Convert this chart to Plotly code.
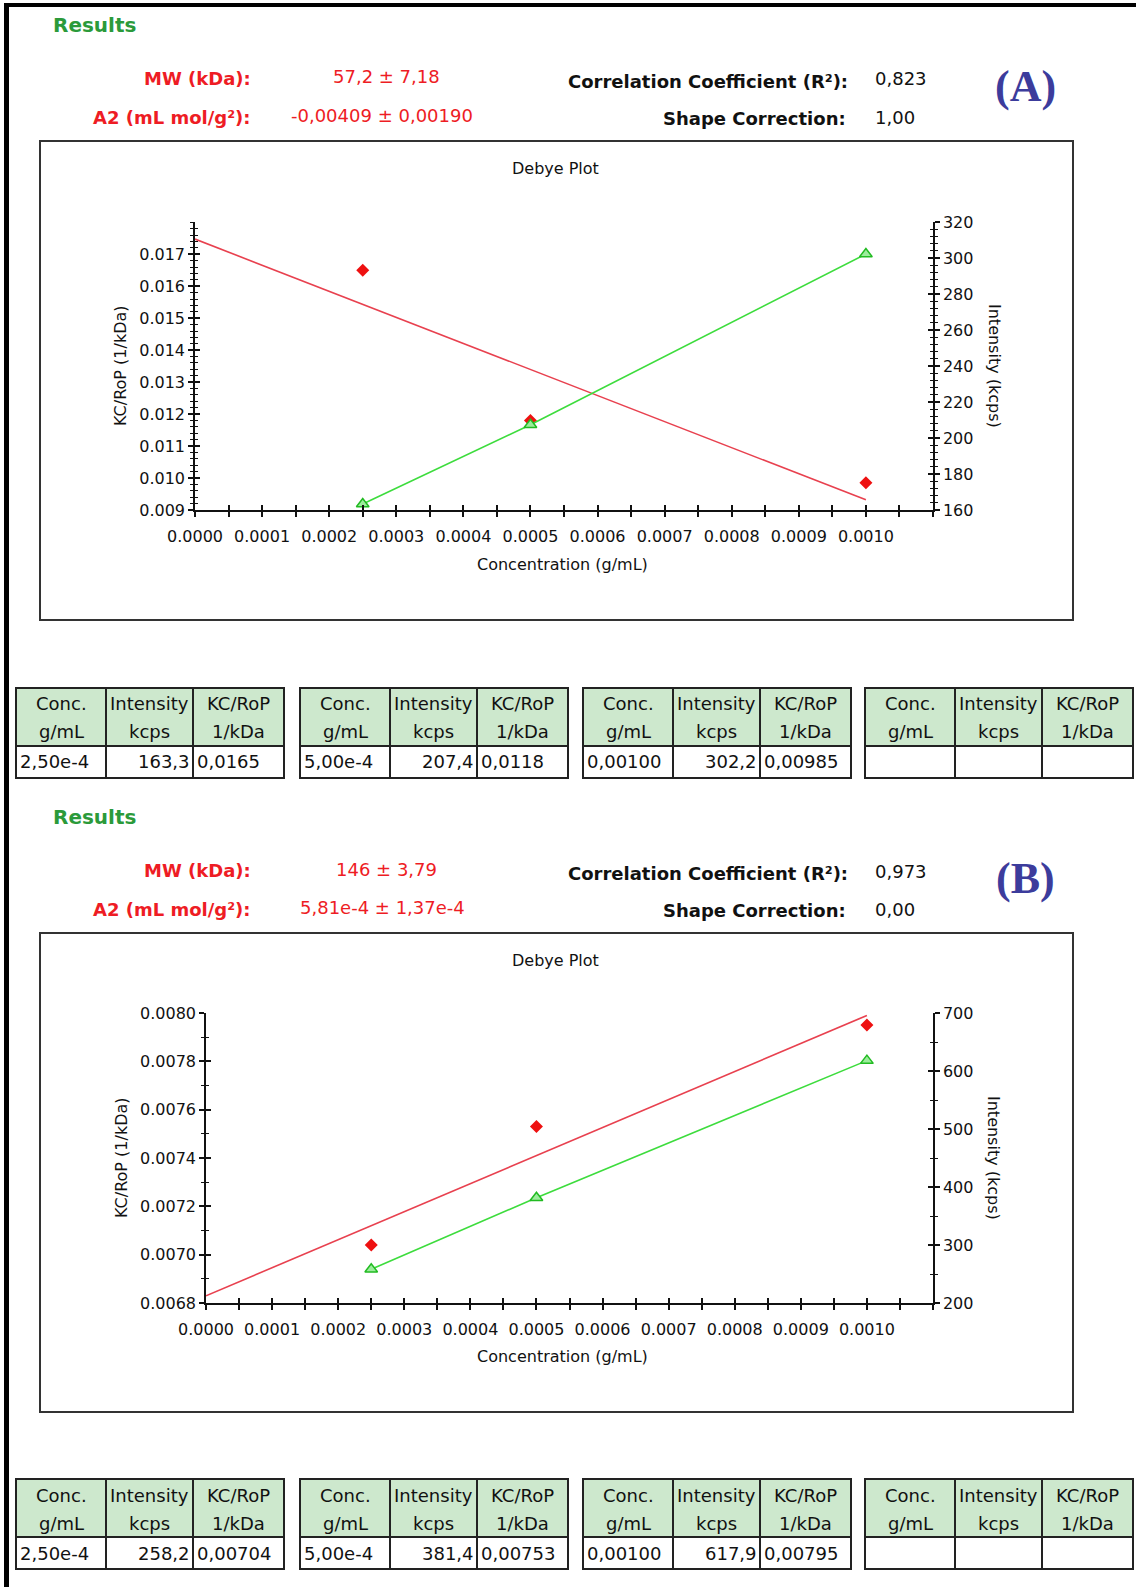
import numpy as np
import plotly.graph_objects as go

W, H = 1136, 1587

# ---------------- data ----------------
conc = [0.00025, 0.0005, 0.001]
conc_labels = ["2,50e-4", "5,00e-4", "0,00100"]

kc_a = [0.0165, 0.0118, 0.00985]
int_a = [163.3, 207.4, 302.2]

kc_b = [0.00704, 0.00753, 0.00795]
int_b = [258.2, 381.4, 617.9]

x_ticks = [0.0000, 0.0001, 0.0002, 0.0003, 0.0004, 0.0005, 0.0006, 0.0007, 0.0008, 0.0009, 0.0010]
x_tick_labels = ["0.0000", "0.0001", "0.0002", "0.0003", "0.0004", "0.0005",
                 "0.0006", "0.0007", "0.0008", "0.0009", "0.0010"]

kc_ticks_a = [0.009, 0.010, 0.011, 0.012, 0.013, 0.014, 0.015, 0.016, 0.017]
kc_tick_labels_a = ["0.009", "0.010", "0.011", "0.012", "0.013", "0.014", "0.015", "0.016", "0.017"]
int_ticks_a = [160, 180, 200, 220, 240, 260, 280, 300, 320]

kc_ticks_b = [0.0068, 0.0070, 0.0072, 0.0074, 0.0076, 0.0078, 0.0080]
kc_tick_labels_b = ["0.0068", "0.0070", "0.0072", "0.0074", "0.0076", "0.0078", "0.0080"]
int_ticks_b = [200, 300, 400, 500, 600, 700]

header_a = {"mw": "57,2 ± 7,18", "a2": "-0,00409 ± 0,00190", "r2": "0,823", "shape": "1,00", "tag": "(A)"}
header_b = {"mw": "146 ± 3,79", "a2": "5,81e-4 ± 1,37e-4", "r2": "0,973", "shape": "0,00", "tag": "(B)"}

table_head_1 = ["Conc.", "Intensity", "KC/RoP"]
table_head_2 = ["g/mL", "kcps", "1/kDa"]

# ---------------- helpers ----------------
def px(x):
    return x / W

def py(y):
    return 1 - y / H

FONT = "DejaVu Sans"
INK = "#111111"
RED_TXT = "#ee1c24"

fig = go.Figure()
annotations = []
shapes = []


def ann(text, x, y, size, color=INK, xanchor="center", bold=False, family=FONT, angle=0):
    if bold:
        text = "<b>" + text + "</b>"
    annotations.append(dict(text=text, x=px(x), y=py(y), xref="paper", yref="paper",
                            xanchor=xanchor, yanchor="middle", showarrow=False,
                            textangle=angle,
                            font=dict(family=family, size=size, color=color)))


def rect(x0, y0, x1, y1, fill=None, color="#222", width=2):
    shapes.append(dict(type="rect", xref="paper", yref="paper", x0=px(x0), x1=px(x1),
                       y0=py(y1), y1=py(y0), fillcolor=fill or "rgba(0,0,0,0)",
                       line=dict(color=color, width=width), layer="above"))


def line(x0, y0, x1, y1, color="#222", width=2):
    shapes.append(dict(type="line", xref="paper", yref="paper", x0=px(x0), x1=px(x1),
                       y0=py(y0), y1=py(y1), line=dict(color=color, width=width)))


def fmt_int(v):
    return f"{v:.1f}".replace(".", ",")


def fmt_kc(v):
    return f"{v:.3g}".replace(".", ",")


layout_axes = {}


def panel(idx, kc, inten, left_px, top_px, bottom_px, kc_range, int_range,
          kc_ticks, kc_labels, kc_minor, int_ticks, int_minor, hdr, dy, tdy):
    if idx == 0:
        xa, ya, ya2, xo, yo1, yo2 = "x", "y", "y2", "x3", "y5", "y6"
    else:
        xa, ya, ya2, xo, yo1, yo2 = "x2", "y3", "y4", "x4", "y7", "y8"

    def key(a):
        return a[0] + "axis" + a[1:]

    xdom = [px(left_px), px(933)]
    ydom = [py(bottom_px), py(top_px)]
    xr = [0, 0.0011]
    tickfont = dict(family=FONT, size=16, color=INK)
    base = dict(showgrid=False, zeroline=False, ticks="outside", ticklen=5, tickwidth=1.5,
                tickcolor=INK, showline=True, linecolor=INK, linewidth=1.5,
                tickfont=tickfont, fixedrange=True, automargin=False)

    layout_axes[key(xa)] = dict(base, domain=xdom, anchor=ya, range=xr, tickmode="array",
                               tickvals=x_ticks, ticktext=x_tick_labels, ticklabelstandoff=6,
                               minor=dict(dtick=0.00005, tick0=0, ticks="outside", ticklen=5,
                                          tickwidth=1.5, tickcolor=INK))
    layout_axes[key(ya)] = dict(base, domain=ydom, anchor=xa, range=kc_range, tickmode="array",
                               tickvals=kc_ticks, ticktext=kc_labels,
                               minor=dict(dtick=kc_minor, tick0=kc_range[0], ticks="outside",
                                          ticklen=3, tickwidth=1.2, tickcolor=INK))
    layout_axes[key(ya2)] = dict(base, overlaying=ya, side="right", anchor=xa, range=int_range,
                                tickmode="array", tickvals=int_ticks,
                                ticktext=[str(t) for t in int_ticks],
                                minor=dict(dtick=int_minor, tick0=int_range[0], ticks="outside",
                                           ticklen=3, tickwidth=1.2, tickcolor=INK))
    inner = dict(showgrid=False, zeroline=False, ticks="inside", ticklen=5, tickwidth=1.5,
                 tickcolor=INK, showline=False, showticklabels=False, fixedrange=True,
                 automargin=False)
    layout_axes[key(xo)] = dict(inner, overlaying=xa, anchor=ya, side="bottom", range=xr,
                               tickmode="array", tickvals=x_ticks,
                               minor=dict(dtick=0.00005, tick0=0, ticks="inside", ticklen=5,
                                          tickwidth=1.5, tickcolor=INK))
    layout_axes[key(yo1)] = dict(inner, overlaying=ya, anchor=xa, side="left", range=kc_range,
                                tickmode="array", tickvals=kc_ticks,
                                minor=dict(dtick=kc_minor, tick0=kc_range[0], ticks="inside",
                                           ticklen=3, tickwidth=1.2, tickcolor=INK))
    layout_axes[key(yo2)] = dict(inner, overlaying=ya, anchor=xa, side="right", range=int_range,
                                tickmode="array", tickvals=int_ticks,
                                minor=dict(dtick=int_minor, tick0=int_range[0], ticks="inside",
                                           ticklen=3, tickwidth=1.2, tickcolor=INK))

    # traces
    slope, intercept = np.polyfit(np.array(conc), np.array(kc), 1)
    xfit = np.array([0.0, max(conc)])
    fig.add_trace(go.Scatter(x=xfit, y=intercept + slope * xfit, mode="lines",
                             line=dict(color="#e8414f", width=1.6), xaxis=xa, yaxis=ya,
                             showlegend=False, hoverinfo="skip"))
    fig.add_trace(go.Scatter(x=conc, y=inten, mode="lines+markers",
                             line=dict(color="#3ddc3d", width=1.6),
                             marker=dict(symbol="triangle-up", size=11, color="#9cec9c",
                                         line=dict(color="#22bb22", width=1.5)),
                             xaxis=xa, yaxis=ya2, showlegend=False))
    fig.add_trace(go.Scatter(x=conc, y=kc, mode="markers",
                             marker=dict(symbol="diamond", size=10, color="#ee1111"),
                             xaxis=xa, yaxis=ya, showlegend=False))
    fig.add_trace(go.Scatter(x=[], y=[], xaxis=xo, yaxis=yo1, showlegend=False))
    fig.add_trace(go.Scatter(x=[], y=[], xaxis=xa, yaxis=yo2, showlegend=False))

    # header texts
    ann("Results", 51, 25 + dy, 20, color="#2b9a3a", xanchor="left", bold=True)
    ann("MW (kDa):", 253, 78 + dy, 18, color=RED_TXT, xanchor="right", bold=True)
    ann("A2 (mL mol/g²):", 253, 117 + dy, 18, color=RED_TXT, xanchor="right", bold=True)
    ann(hdr["mw"], 386, 77 + dy, 18, color=RED_TXT)
    ann(hdr["a2"], 382, 116 + dy, 18, color=RED_TXT)
    ann("Correlation Coefficient (R²):", 850, 81 + dy, 18, xanchor="right", bold=True)
    ann("Shape Correction:", 848, 118 + dy, 18, xanchor="right", bold=True)
    ann(hdr["r2"], 873, 79 + dy, 18, xanchor="left")
    ann(hdr["shape"], 873, 117 + dy, 18, xanchor="left")
    ann(hdr["tag"], 1025, 86 + dy, 44, color="#3c3c9c", bold=True, family="Liberation Serif")

    # plot box + titles
    rect(40, 141 + dy, 1073, 620 + dy, color="#333", width=2)
    ann("Debye Plot", 555, 168 + dy, 16)
    ann("Concentration (g/mL)", 562, 564 + dy, 16)
    ann("KC/RoP (1/kDa)", 121, (top_px + bottom_px) / 2, 16, angle=-90)
    ann("Intensity (kcps)", 994, (top_px + bottom_px) / 2, 16, angle=90)

    # tables (drawn as cells)
    lefts = [16, 300, 583, 865]
    colw = [90, 87, 91]
    t0, t1, t2 = 688 + tdy, 746 + tdy, 778 + tdy
    for i, lft in enumerate(lefts):
        edges = [lft, lft + colw[0], lft + colw[0] + colw[1], lft + sum(colw)]
        rect(edges[0], t0, edges[3], t1, fill="#cde8cd", width=0)
        rect(edges[0], t1, edges[3], t2, fill="white", width=0)
        for j in range(3):
            cx = (edges[j] + edges[j + 1]) / 2
            ann(table_head_1[j], cx, t0 + 16, 18)
            ann(table_head_2[j], cx, t0 + 44, 18)
        if i < len(conc):
            ann(conc_labels[i], edges[0] + 2, t1 + 16, 18, xanchor="left")
            ann(fmt_int(inten[i]), edges[2] - 1, t1 + 16, 18, xanchor="right")
            ann(fmt_kc(kc[i]), edges[2] + 2, t1 + 16, 18, xanchor="left")
        rect(edges[0], t0, edges[3], t2, width=2)
        line(edges[0], t1, edges[3], t1)
        line(edges[1], t0, edges[1], t2)
        line(edges[2], t0, edges[2], t2)


panel(0, kc_a, int_a, 195, 222, 510, [0.009, 0.01801], [160, 320],
      kc_ticks_a, kc_tick_labels_a, 0.0002, int_ticks_a, 4, header_a, 0, 0)
panel(1, kc_b, int_b, 206, 1013, 1303, [0.0068, 0.0080], [200, 700],
      kc_ticks_b, kc_tick_labels_b, 0.0001, int_ticks_b, 50, header_b, 792, 791)

# outer frame (left and top edges)
line(6.5, 3, 6.5, 1587, color="black", width=5)
line(4, 5, 1136, 5, color="black", width=4)

fig.update_layout(width=W, height=H, margin=dict(l=0, r=0, t=0, b=0, pad=0, autoexpand=False),
                  paper_bgcolor="white", plot_bgcolor="rgba(0,0,0,0)",
                  showlegend=False, annotations=annotations, shapes=shapes,
                  **layout_axes)

fig.write_html("out.html", config={"displayModeBar": False},
               post_script="document.body.style.margin='0px';document.body.style.overflow='hidden';")
